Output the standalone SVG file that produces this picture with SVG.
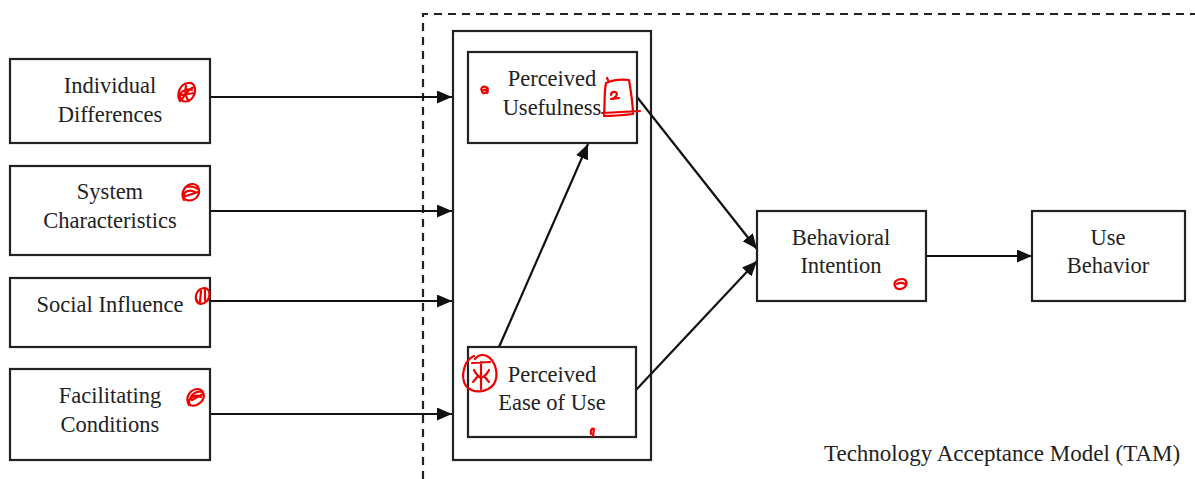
<svg xmlns="http://www.w3.org/2000/svg" width="1195" height="479" viewBox="0 0 1195 479">
  <style>
    .box { fill: #ffffff; stroke: #222222; stroke-width: 2.2; }
    .frame { fill: none; stroke: #222222; stroke-width: 2.2; }
    .dash { fill: none; stroke: #222222; stroke-width: 2.2; stroke-dasharray: 8 6; }
    .lbl { font-family: "Liberation Serif", "Times New Roman", serif; font-size: 22.5px; fill: #222222; text-anchor: middle; }
    .cap { font-family: "Liberation Serif", "Times New Roman", serif; font-size: 23px; fill: #222222; }
    .edge { fill: none; stroke: #111111; stroke-width: 2.2; marker-end: url(#arrow); }
    .ink { fill: none; stroke: #ee0000; stroke-width: 2.2; stroke-linecap: round; stroke-linejoin: round; }
  </style>
  <defs>
    <marker id="arrow" markerUnits="userSpaceOnUse" markerWidth="16" markerHeight="14" refX="15" refY="6.5" orient="auto">
      <path d="M0,0 L15,6.5 L0,13 z" fill="#111111"/>
    </marker>
  </defs>

  <rect width="1195" height="479" fill="#ffffff"/>

  <!-- TAM boundary (dashed) -->
  <path class="dash" d="M423,479 L423,14 L1195,14"/>
  <!-- frame around the two perception constructs -->
  <rect class="frame" x="453" y="31" width="198" height="429"/>

  <g id="connectors">
    <line class="edge" x1="210" y1="97" x2="452" y2="97"/>
    <line class="edge" x1="210" y1="211" x2="452" y2="211"/>
    <line class="edge" x1="210" y1="301" x2="452" y2="301"/>
    <line class="edge" x1="210" y1="414" x2="452" y2="414"/>
    <line class="edge" x1="499" y1="347" x2="588" y2="144"/>
    <line class="edge" x1="637" y1="97" x2="757" y2="249"/>
    <line class="edge" x1="636" y1="390" x2="757" y2="261"/>
    <line class="edge" x1="926" y1="256" x2="1032" y2="256"/>
  </g>

  <g id="individual-differences">
    <rect class="box" x="10" y="59" width="200" height="84"/>
    <text class="lbl" x="110" y="93">Individual</text>
    <text class="lbl" x="110" y="122">Differences</text>
  </g>
  <g id="system-characteristics">
    <rect class="box" x="10" y="166" width="200" height="89"/>
    <text class="lbl" x="110" y="199">System</text>
    <text class="lbl" x="110" y="228">Characteristics</text>
  </g>
  <g id="social-influence">
    <rect class="box" x="10" y="278" width="200" height="69"/>
    <text class="lbl" x="110" y="312">Social Influence</text>
  </g>
  <g id="facilitating-conditions">
    <rect class="box" x="10" y="369" width="200" height="91"/>
    <text class="lbl" x="110" y="403">Facilitating</text>
    <text class="lbl" x="110" y="432">Conditions</text>
  </g>

  <g id="perceived-usefulness">
    <rect class="box" x="468" y="52" width="169" height="91"/>
    <text class="lbl" x="552" y="86">Perceived</text>
    <text class="lbl" x="552" y="115">Usefulness</text>
  </g>
  <g id="perceived-ease-of-use">
    <rect class="box" x="468" y="347" width="168" height="90"/>
    <text class="lbl" x="552" y="382">Perceived</text>
    <text class="lbl" x="552" y="410">Ease of Use</text>
  </g>
  <g id="behavioral-intention">
    <rect class="box" x="757" y="211" width="169" height="90"/>
    <text class="lbl" x="841" y="245">Behavioral</text>
    <text class="lbl" x="841" y="273">Intention</text>
  </g>
  <g id="use-behavior">
    <rect class="box" x="1032" y="211" width="153" height="90"/>
    <text class="lbl" x="1108" y="245">Use</text>
    <text class="lbl" x="1108" y="273">Behavior</text>
  </g>

  <text class="cap" x="824" y="461">Technology Acceptance Model (TAM)</text>

  <!-- hand-drawn red pen marks -->
  <g id="pen-marks">
    <path class="ink" d="M180,101 C176,94 180,84 188,83 C195,82 197,90 193,97 C189,103 181,103 180,97 C179,92 186,88 192,90 M181,95 L194,93 M186,86 C184,92 186,98 189,101 M182,99 C186,93 190,88 194,87"/>
    <path class="ink" d="M184,200 C180,193 185,184 193,184 C200,185 201,193 196,198 C191,202 184,201 184,196 C184,191 190,189 195,192 M186,196 L198,192 M186,187 C190,186 195,187 198,189"/>
    <path class="ink" d="M197,302 C194,296 197,289 204,288 C210,288 211,296 207,301 C203,305 197,305 197,300 M201,291 L200,302 M205,290 L205,301"/>
    <path class="ink" d="M189,405 C185,398 189,390 197,389 C204,389 206,397 201,402 C196,407 189,407 189,402 C190,396 197,394 201,397 M192,400 L203,394 M190,399 C192,393 197,391 202,392"/>
    <path class="ink" d="M482,91 C480,88 483,86 486,87 C489,88 488,92 485,93 C482,94 481,91 484,90 C487,89 489,91 487,93" stroke-width="2.6"/>
    <path class="ink" d="M609,82 L607,78 M606,83 C604,92 605,104 604,116 C614,116 624,115 633,114 C633,103 631,92 629,80 C621,79 613,80 606,83 M602,113 L640,111 M611,95 C611,91 616,91 617,94 C617,97 612,99 611,99 C614,99 617,98 619,98"/>
    <path class="ink" d="M474,356 C464,360 460,377 466,386 C473,394 487,393 494,384 C499,375 496,361 487,356 C482,354 478,355 475,359 M472,363 L490,362 M481,362 L481,389 M474,370 C476,374 479,377 481,378 M489,370 C487,374 484,377 481,378 M473,382 L478,376 M489,382 L484,376"/>
    <path class="ink" d="M591,434 C590,430 592,428 594,429 M594,429 L593,436"/>
    <path class="ink" d="M895,286 C893,282 897,279 902,279 C906,279 908,283 905,287 C902,290 896,290 895,286 M897,284 C900,282 903,283 905,284"/>
  </g>
</svg>
